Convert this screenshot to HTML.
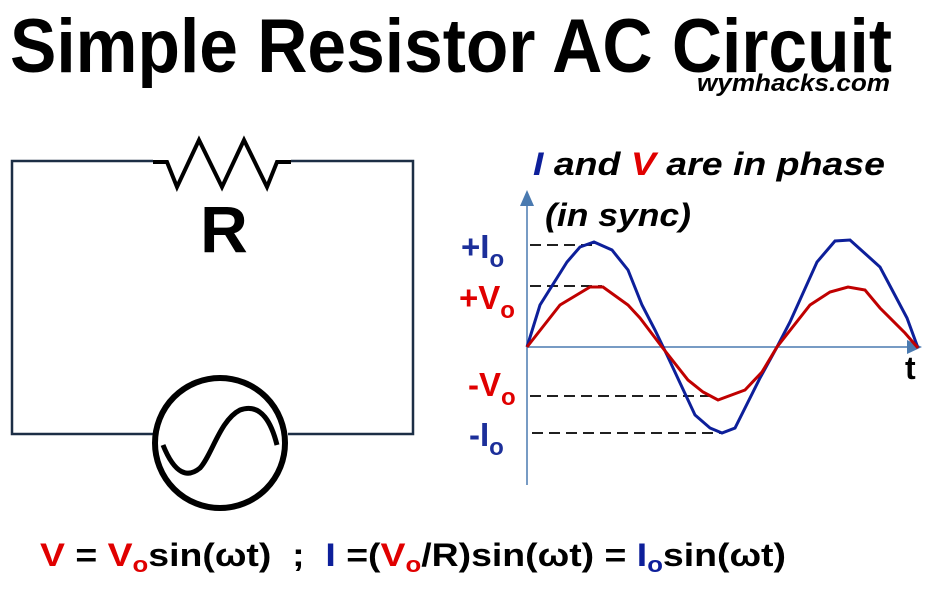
<!DOCTYPE html>
<html><head><meta charset="utf-8"><style>
html,body{margin:0;padding:0;background:#fff;}
svg{display:block;}
text{font-family:"Liberation Sans",sans-serif;font-weight:bold;}
</style></head><body>
<svg width="934" height="589" viewBox="0 0 934 589" xmlns="http://www.w3.org/2000/svg">
<text x="10" y="72" font-size="76" textLength="882" lengthAdjust="spacingAndGlyphs">Simple Resistor AC Circuit</text>
<text x="697" y="91" font-size="24" font-style="italic" textLength="193" lengthAdjust="spacingAndGlyphs">wymhacks.com</text>

<!-- circuit -->
<polyline points="153,161 12,161 12,434 153,434" fill="none" stroke="#1c2e45" stroke-width="2.5"/>
<polyline points="291,161 413,161 413,434 288,434" fill="none" stroke="#1c2e45" stroke-width="2.5"/>
<polyline points="153,162 167,162 177,187 199,140 222,187 244,140 267,187 277,162 291,162" fill="none" stroke="#000" stroke-width="4" stroke-linejoin="miter"/>
<text x="224" y="252" font-size="66" text-anchor="middle">R</text>
<circle cx="220" cy="443" r="65" fill="#fff" stroke="#000" stroke-width="6"/>
<path d="M163,445 C175,475 188,478 200,468 C212,455 220,420 240,410 C262,402 272,425 277,445" fill="none" stroke="#000" stroke-width="5"/>

<!-- graph -->
<text x="533" y="175" font-size="32" font-style="italic" textLength="352" lengthAdjust="spacingAndGlyphs"><tspan fill="#0d1f9a">I</tspan> and <tspan fill="#e00000">V</tspan> are in phase</text>
<text x="545" y="226" font-size="32" font-style="italic" textLength="146" lengthAdjust="spacingAndGlyphs">(in sync)</text>
<line x1="527" y1="200" x2="527" y2="485" stroke="#4a7ab0" stroke-width="1.5"/>
<polygon points="527,190 520,206 534,206" fill="#4a7ab0"/>
<line x1="527" y1="347" x2="912" y2="347" stroke="#4a7ab0" stroke-width="1.5"/>
<polygon points="922,347 907,340 907,354" fill="#4a7ab0"/>
<g stroke="#000" stroke-width="1.8" stroke-dasharray="11,6">
<line x1="530" y1="245" x2="595" y2="245"/>
<line x1="530" y1="286" x2="602" y2="286"/>
<line x1="530" y1="396" x2="715" y2="396"/>
<line x1="532" y1="433" x2="722" y2="433"/>
</g>
<polyline fill="none" stroke="#0d1f9a" stroke-width="3" points="527,347 540,305 567,262 580,247 594,242 612,250 628,270 642,305 655,330 667,355 695,415 710,428 722,433 735,428 760,378 777,347 790,322 817,262 835,241 850,240 880,267 907,318 918,348"/>
<polyline fill="none" stroke="#c00000" stroke-width="3" points="527,347 560,305 590,287 603,287 628,305 640,318 662,347 688,380 703,392 718,400 745,390 762,372 777,347 810,305 830,292 848,287 865,290 880,308 905,333 918,348"/>
<text x="905" y="379" font-size="32">t</text>
<text x="461" y="258" font-size="33" fill="#1c2f9a">+I<tspan font-size="24" dy="9">o</tspan></text>
<text x="459" y="309" font-size="33" fill="#e00000">+V<tspan font-size="24" dy="9">o</tspan></text>
<text x="468" y="396" font-size="33" fill="#e00000">-V<tspan font-size="24" dy="9">o</tspan></text>
<text x="469" y="446" font-size="33" fill="#1c2f9a">-I<tspan font-size="24" dy="9">o</tspan></text>

<!-- formula -->
<text x="40" y="566" font-size="32" textLength="746" lengthAdjust="spacingAndGlyphs" xml:space="preserve"><tspan fill="#e00000">V</tspan> = <tspan fill="#e00000">V</tspan><tspan fill="#e00000" font-size="22" dy="6">o</tspan><tspan dy="-6">sin(ωt)  ;  </tspan><tspan fill="#0d1f9a">I</tspan> =(<tspan fill="#e00000">V</tspan><tspan fill="#e00000" font-size="22" dy="6">o</tspan><tspan dy="-6">/R)sin(ωt) = </tspan><tspan fill="#0d1f9a">I</tspan><tspan fill="#0d1f9a" font-size="22" dy="6">o</tspan><tspan dy="-6">sin(ωt)</tspan></text>
</svg>
</body></html>
